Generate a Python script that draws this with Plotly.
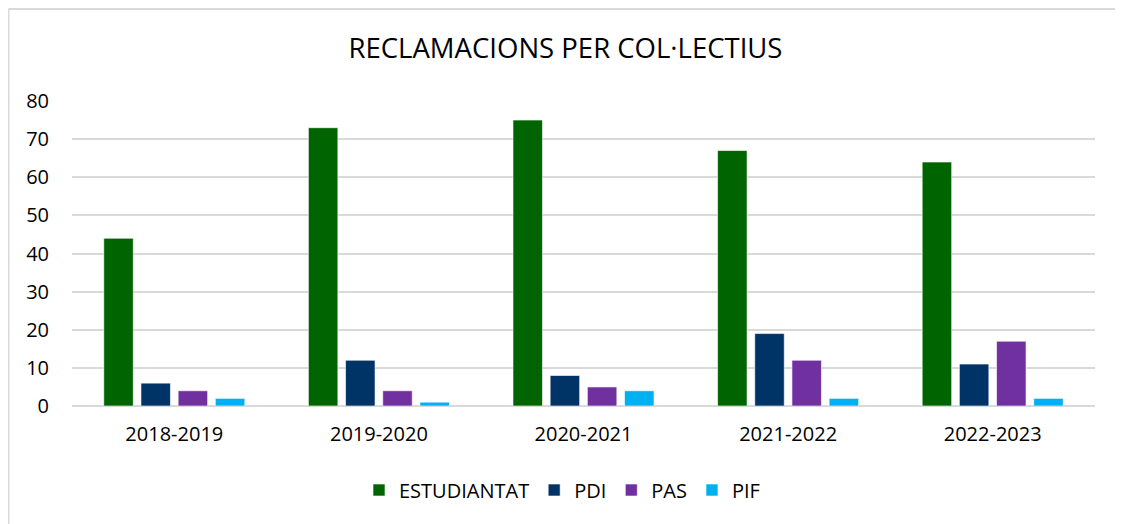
import plotly.graph_objects as go

categories = ["2018-2019", "2019-2020", "2020-2021", "2021-2022", "2022-2023"]
estudiantat = [44, 73, 75, 67, 64]
pdi = [6, 12, 8, 19, 11]
pas = [4, 4, 5, 12, 17]
pif = [2, 1, 4, 2, 2]

series = [
    ("ESTUDIANTAT", estudiantat, "#006400"),
    ("PDI", pdi, "#003366"),
    ("PAS", pas, "#7030A0"),
    ("PIF", pif, "#00B0F0"),
]

FONT = "Open Sans"

fig = go.Figure()
for name, vals, color in series:
    fig.add_trace(go.Bar(
        x=categories, y=vals, name=name,
        marker=dict(color=color, line=dict(color="rgba(255,255,255,0.6)", width=1)),
    ))

# page is offset by the 8px body margin
OFF = 8
W, H = 1123 - OFF, 524 - OFF
ml, mt = 72 - OFF, 101 - OFF
mr = W - (1095 - OFF)
mb = H - (406 - OFF)
pw, ph = W - ml - mr, H - mt - mb

def px(x):  # figure pixel -> paper
    return (x - ml) / pw

def py(y):
    return (H - mb - y) / ph

fig.update_layout(
    width=W, height=H,
    margin=dict(l=ml, r=mr, t=mt, b=mb, autoexpand=False),
    paper_bgcolor="white", plot_bgcolor="white",
    barmode="group", bargap=0.273, bargroupgap=0.207,
    title=dict(text="RECLAMACIONS PER COL·LECTIUS", x=0.5, xref="container", xanchor="center",
               y=1 - (48 - OFF) / H, yanchor="middle",
               font=dict(family=FONT, size=27.5, color="#000000")),
    font=dict(family=FONT, size=20, color="#000000"),
    showlegend=True,
    legend=dict(orientation="h", x=px(562 - OFF), xanchor="center", y=py(490 - OFF), yanchor="middle",
                font=dict(family=FONT, size=20, color="#000000"),
                itemwidth=30, traceorder="normal"),
    xaxis=dict(showgrid=False, showline=False, ticks="", tickfont=dict(size=20),
               ticklabelstandoff=14),
    yaxis=dict(range=[0, 80], dtick=10, showgrid=True, gridcolor="#d9d9d9", gridwidth=1.5,
               zeroline=True, zerolinecolor="#d9d9d9", zerolinewidth=1.5,
               showline=False, ticks="", ticklabelstandoff=22, tickfont=dict(size=20)),
    shapes=[
        dict(type="line", xref="paper", yref="paper", x0=px(0.5), x1=px(W + 5), y0=py(1), y1=py(1),
             line=dict(color="#d9d9d9", width=2)),
        dict(type="line", xref="paper", yref="paper", x0=px(0.5), x1=px(0.5), y0=py(1), y1=py(H + 5),
             line=dict(color="#d9d9d9", width=2)),
    ],
)

fig.write_html("out.html")
